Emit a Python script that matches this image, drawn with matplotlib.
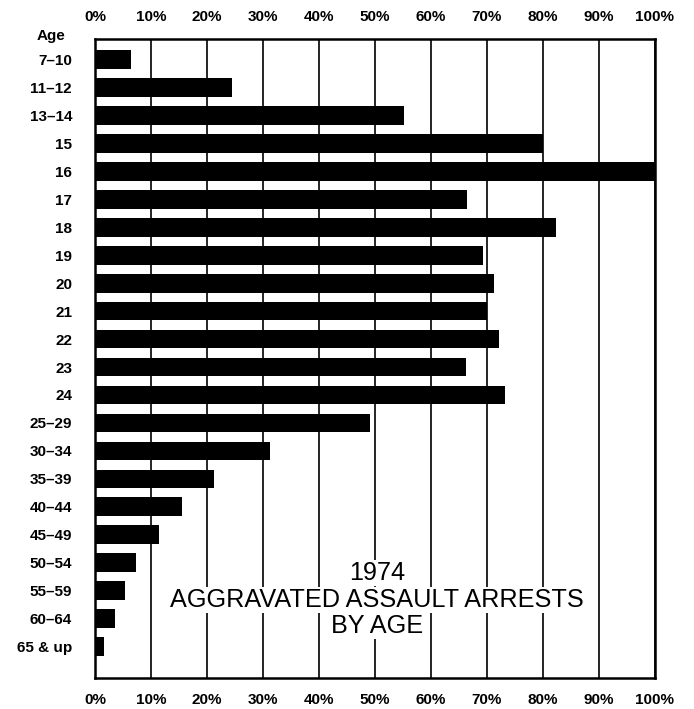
import matplotlib
matplotlib.use('Agg')
import matplotlib.pyplot as plt
import numpy as np

plt.rcParams['font.family'] = ['Liberation Sans', 'DejaVu Sans']

ages = ['7–10', '11–12', '13–14', '15', '16', '17', '18', '19', '20', '21', '22',
        '23', '24', '25–29', '30–34', '35–39', '40–44', '45–49', '50–54',
        '55–59', '60–64', '65 & up']
pct = [6.4, 24.5, 55.2, 80.0, 100.0, 66.4, 82.4, 69.3, 71.3, 70.0, 72.1,
       66.3, 73.2, 49.1, 31.3, 21.3, 15.5, 11.4, 7.3, 5.4, 3.6, 1.6]
xticks = list(range(0, 101, 10))
xlabels = [f'{t}%' for t in xticks]
title_lines = ['1974', 'AGGRAVATED ASSAULT ARRESTS', 'BY AGE']

fig = plt.figure(figsize=(6.94, 7.09), dpi=100)
ax = fig.add_axes([95/694, 1 - 678/709, 560/694, 639/709])

y = np.arange(len(ages))
ax.barh(y, pct, height=0.67, color='black', zorder=3)

ax.set_xlim(0, 100)
ax.set_ylim(22.12, -0.73)
ax.set_xticks(xticks)
ax.set_xticklabels(xlabels)
ax.set_yticks(y)
ax.set_yticklabels(ages)
ax.tick_params(axis='x', which='both', length=0, top=True, labeltop=True,
               bottom=True, labelbottom=True, pad=10.5, labelsize=11)
ax.tick_params(axis='y', length=0, pad=16.5, labelsize=11)
for lab in ax.get_xticklabels() + ax.get_yticklabels():
    lab.set_fontweight('bold')

ax.grid(axis='x', color='black', linewidth=1.2, zorder=1)
for s in ax.spines.values():
    s.set_linewidth(1.8)
    s.set_color('black')

fig.text(51/694, 1 - 36/709, 'Age', ha='center', va='center', fontsize=11,
         fontweight='bold')

ys = [573, 600, 626]
for line, yy in zip(title_lines, ys):
    ax.text(377/694, 1 - yy/709, line, transform=fig.transFigure,
            ha='center', va='center', fontsize=18.2, zorder=5,
            bbox=dict(facecolor='white', edgecolor='none', pad=0.5))

fig.savefig('out.png', dpi=100)
